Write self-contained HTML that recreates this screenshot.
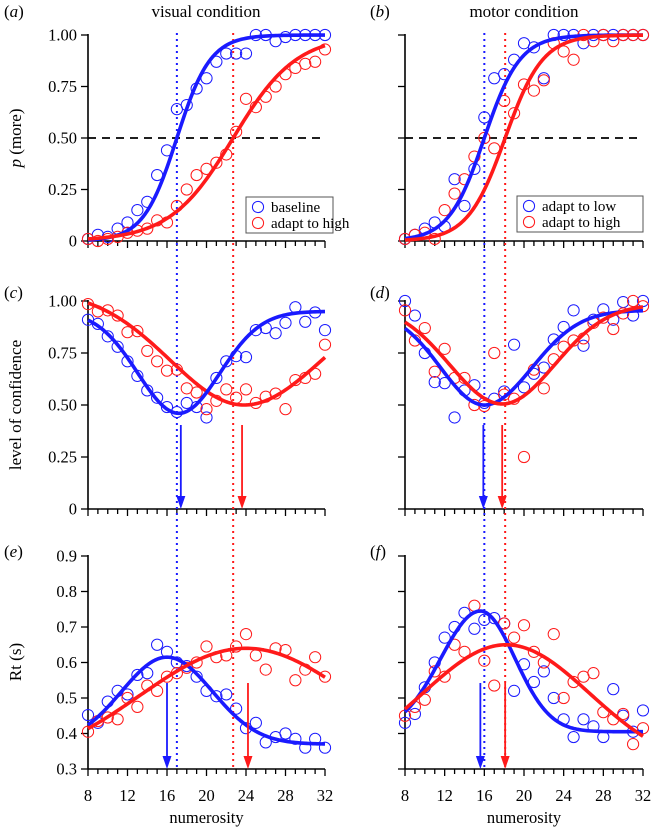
<!DOCTYPE html>
<html><head><meta charset="utf-8">
<style>
html,body{margin:0;padding:0;background:#fff;}
svg, svg text{font-family:"Liberation Serif","DejaVu Serif",serif;}
svg{display:block;}
</style></head>
<body>
<svg id="fig" width="652" height="829" viewBox="0 0 652 829" xmlns="http://www.w3.org/2000/svg"></svg>
<script>
// ---- data ----
const xs = [8,9,10,11,12,13,14,15,16,17,18,19,20,21,22,23,24,25,26,27,28,29,30,31,32];
const xTicks = [8,12,16,20,24,28,32];
const pTicks = [0,0.25,0.5,0.75,1.0];
const pTickLabels = ["0","0.25","0.50","0.75","1.00"];
const rtTicks = [0.3,0.4,0.5,0.6,0.7,0.8,0.9];
const rtTickLabels = ["0.3","0.4","0.5","0.6","0.7","0.8","0.9"];

const aBlue = [0.01,0.03,0.02,0.06,0.09,0.15,0.19,0.32,0.44,0.64,0.66,0.74,0.79,0.87,0.91,0.91,0.91,1.0,1.0,0.97,0.99,1.0,1.0,1.0,1.0];
const aRed  = [0.01,0.0,0.01,0.02,0.04,0.05,0.06,0.10,0.09,0.17,0.25,0.32,0.35,0.38,0.42,0.53,0.69,0.65,0.70,0.75,0.81,0.84,0.86,0.87,0.93];
const bBlue = [0.01,0.03,0.06,0.09,0.07,0.30,0.17,0.35,0.60,0.79,0.81,0.88,0.96,0.94,0.79,1.0,1.0,1.0,0.96,1.0,1.0,1.0,1.0,1.0,1.0];
const bRed  = [0.01,0.03,0.04,0.01,0.15,0.23,0.30,0.41,0.50,0.45,0.68,0.62,0.76,0.73,0.78,0.96,0.92,0.88,1.0,0.97,1.0,0.97,1.0,1.0,1.0];
const cBlue = [0.91,0.89,0.83,0.78,0.71,0.64,0.57,0.535,0.49,0.466,0.51,0.49,0.44,0.63,0.71,0.735,0.73,0.86,0.87,0.845,0.895,0.97,0.90,0.945,0.86];
const cRed  = [0.985,0.95,0.955,0.93,0.85,0.855,0.76,0.71,0.665,0.67,0.58,0.56,0.48,0.52,0.575,0.535,0.575,0.51,0.54,0.555,0.48,0.62,0.63,0.65,0.79];
const dBlue = [1.0,0.93,0.75,0.61,0.605,0.44,0.57,0.595,0.51,0.53,0.565,0.79,0.585,0.65,0.68,0.815,0.875,0.955,0.785,0.91,0.96,0.91,0.995,0.93,1.0];
const dRed  = [0.955,0.81,0.87,0.66,0.77,0.63,0.63,0.50,0.495,0.75,0.55,0.53,0.25,0.67,0.58,0.72,0.78,0.81,0.82,0.895,0.92,0.865,0.94,1.0,0.975];
const eBlue = [0.452,0.43,0.49,0.52,0.51,0.565,0.57,0.65,0.63,0.60,0.59,0.56,0.52,0.505,0.51,0.47,0.415,0.43,0.375,0.39,0.40,0.385,0.36,0.385,0.36];
const eRed  = [0.405,0.435,0.445,0.44,0.50,0.475,0.535,0.52,0.56,0.57,0.585,0.60,0.645,0.615,0.62,0.645,0.68,0.62,0.58,0.64,0.635,0.55,0.58,0.615,0.56];
const fBlue = [0.43,0.455,0.53,0.60,0.67,0.70,0.74,0.695,0.72,0.725,0.71,0.52,0.595,0.545,0.575,0.50,0.44,0.39,0.44,0.42,0.39,0.525,0.45,0.405,0.465];
const fRed  = [0.45,0.475,0.495,0.575,0.56,0.65,0.63,0.76,0.605,0.535,0.71,0.67,0.705,0.63,0.60,0.68,0.50,0.545,0.56,0.57,0.46,0.44,0.455,0.37,0.415];

// fitted-curve parameters: [centre, scale]
const fitA = [[17.0,1.7],[22.7,3.2]];
const fitB = [[16.0,1.8],[18.1,1.9]];
// dip/bump params: [mu, base, amp, sigmaLeft, sigmaRight]
const fitC = [[17.2,0.46,0.49,4.15,4.15],[23.8,0.50,0.55,7.5,7.9]];
const fitD = [[16.0,0.50,0.455,4.4,4.8],[17.8,0.505,0.48,5.3,5.3]];
const fitE = [[16.0,0.37,0.245,4.6,4.6],[24.0,0.30,0.34,10.8,10.8]];
const fitF = [[15.6,0.405,0.34,4.0,3.5],[18.2,0.30,0.35,8.45,8.45]];
const arrowsC = [17.4,23.6], arrowsD = [15.9,17.8], arrowsE = [16.0,24.2], arrowsF = [15.6,18.1];
const pseLeft = [17.0,22.7], pseRight = [16.0,18.1];

// ---- drawing ----
const NS="http://www.w3.org/2000/svg";
const svg=document.getElementById('fig');
const BLUE="#1a1aff", RED="#ff1a1a";
const FONT="'Liberation Serif', 'DejaVu Serif', serif";
function el(tag,attrs,parent){const e=document.createElementNS(NS,tag);for(const k in attrs)e.setAttribute(k,attrs[k]);if(tag==='text')e.setAttribute('font-family',FONT);(parent||svg).appendChild(e);return e;}
const cols={L:[88,325],R:[405,643]};
const rows={T:[35,241,0,1],M:[301,509,0,1],B:[556,769,0.3,0.9]};
function sx(c,v){const a=cols[c][0],b=cols[c][1];return a+(v-8)/24*(b-a);}
function sy(r,v){const t=rows[r][0],b=rows[r][1],lo=rows[r][2],hi=rows[r][3];return b-(v-lo)/(hi-lo)*(b-t);}

function axes(c,r,yt,ytl,labels,nm){
  const g=el('g',{});
  
  
  const x0=cols[c][0],x1=cols[c][1];const t=rows[r][0],b=rows[r][1];
  el('line',{x1:x0,y1:t-1,x2:x0,y2:b,stroke:'#000','stroke-width':1.6},g);
  el('line',{x1:x0,y1:b,x2:x1,y2:b,stroke:'#000','stroke-width':1.6},g);
  for(let v=8;v<=32;v++){const X=sx(c,v);const L=(v%4===0)?7:5;el('line',{x1:X,y1:b,x2:X,y2:b+L,stroke:'#000','stroke-width':1.3},g);}
  yt.forEach((v,i)=>{const Y=sy(r,v);el('line',{x1:x0-7,y1:Y,x2:x0,y2:Y,stroke:'#000','stroke-width':1.3},g);
    if(labels){const tx=el('text',{x:x0-11,y:Y+5.5,'text-anchor':'end','font-size':16.5},g);tx.textContent=ytl[i];}});
  if(r==='B'){xTicks.forEach(v=>{const tx=el('text',{x:sx(c,v),y:801,'text-anchor':'middle','font-size':16.5},g);tx.textContent=v;});
    const tt=el('text',{x:(x0+x1)/2,y:823,'text-anchor':'middle','font-size':16.5},g);tt.textContent='numerosity';
    }
}
function points(c,r,vals,color,nm){
  const g=el('g',{});
  
  
  xs.forEach((x,i)=>{const cc=el('circle',{cx:sx(c,x),cy:sy(r,vals[i]),r:5.6,fill:'none',stroke:color,'stroke-width':1},g);
    
    });
}
function curve(c,r,f,color,nm){
  let d='';for(let x=8;x<=32.001;x+=0.2){d+=(d?'L':'M')+sx(c,x).toFixed(2)+','+sy(r,f(x)).toFixed(2);}
  const p=el('path',{d:d,fill:'none',stroke:color,'stroke-width':3.6,'stroke-linejoin':'round'});
  
  
}
function logistic(p){return function(x){return 1/(1+Math.exp(-(x-p[0])/p[1]));};}
function dip(p){return function(x){const s=x<p[0]?p[3]:p[4];return p[1]+p[2]*(1-Math.exp(-Math.pow(x-p[0],2)/(2*s*s)));};}
function bump(p){return function(x){const s=x<p[0]?p[3]:p[4];return p[1]+p[2]*Math.exp(-Math.pow(x-p[0],2)/(2*s*s));};}
function arrow(c,r,v,color,topY,nm){
  const X=sx(c,v);const b=rows[r][1];
  const g=el('g',{});
  
  
  el('line',{x1:X,y1:topY,x2:X,y2:b-12,stroke:color,'stroke-width':1.8},g);
  el('polygon',{points:(X-4.5)+','+(b-13)+' '+(X+4.5)+','+(b-13)+' '+X+','+b,fill:color},g);
}
function vdotted(c,v,color,nm){
  const l=el('line',{x1:sx(c,v),y1:33,x2:sx(c,v),y2:771,stroke:color,'stroke-width':2,'stroke-dasharray':'2 4'});
  
  
}

axes('L','T',pTicks,pTickLabels,true,'panel-a');
axes('R','T',pTicks,pTickLabels,false,'panel-b');
axes('L','M',pTicks,pTickLabels,true,'panel-c');
axes('R','M',pTicks,pTickLabels,false,'panel-d');
axes('L','B',rtTicks,rtTickLabels,true,'panel-e');
axes('R','B',rtTicks,rtTickLabels,false,'panel-f');

['L','R'].forEach(c=>{const l=el('line',{x1:cols[c][0],y1:sy('T',0.5),x2:cols[c][1],y2:sy('T',0.5),stroke:'#000','stroke-width':1.8,'stroke-dasharray':'8 6'});
  
  });
vdotted('L',pseLeft[0],BLUE,'pse-baseline-line');
vdotted('L',pseLeft[1],RED,'pse-adapt-high-line');
vdotted('R',pseRight[0],BLUE,'pse-adapt-low-line');
vdotted('R',pseRight[1],RED,'pse-adapt-high-line-motor');

points('L','T',aBlue,BLUE,'a-baseline-points');points('L','T',aRed,RED,'a-adapt-high-points');
curve('L','T',logistic(fitA[0]),BLUE,'a-baseline-fit');curve('L','T',logistic(fitA[1]),RED,'a-adapt-high-fit');
points('R','T',bBlue,BLUE,'b-adapt-low-points');points('R','T',bRed,RED,'b-adapt-high-points');
curve('R','T',logistic(fitB[0]),BLUE,'b-adapt-low-fit');curve('R','T',logistic(fitB[1]),RED,'b-adapt-high-fit');
points('L','M',cBlue,BLUE,'c-baseline-points');points('L','M',cRed,RED,'c-adapt-high-points');
curve('L','M',dip(fitC[1]),RED,'c-adapt-high-fit');curve('L','M',dip(fitC[0]),BLUE,'c-baseline-fit');
points('R','M',dBlue,BLUE,'d-adapt-low-points');points('R','M',dRed,RED,'d-adapt-high-points');
curve('R','M',dip(fitD[0]),BLUE,'d-adapt-low-fit');curve('R','M',dip(fitD[1]),RED,'d-adapt-high-fit');
points('L','B',eBlue,BLUE,'e-baseline-points');points('L','B',eRed,RED,'e-adapt-high-points');
curve('L','B',bump(fitE[0]),BLUE,'e-baseline-fit');curve('L','B',bump(fitE[1]),RED,'e-adapt-high-fit');
points('R','B',fBlue,BLUE,'f-adapt-low-points');points('R','B',fRed,RED,'f-adapt-high-points');
curve('R','B',bump(fitF[0]),BLUE,'f-adapt-low-fit');curve('R','B',bump(fitF[1]),RED,'f-adapt-high-fit');

arrow('L','M',arrowsC[0],BLUE,425,'c-blue-arrow');arrow('L','M',arrowsC[1],RED,425,'c-red-arrow');
arrow('R','M',arrowsD[0],BLUE,425,'d-blue-arrow');arrow('R','M',arrowsD[1],RED,425,'d-red-arrow');
arrow('L','B',arrowsE[0],BLUE,683,'e-blue-arrow');arrow('L','B',arrowsE[1],RED,683,'e-red-arrow');
arrow('R','B',arrowsF[0],BLUE,683,'f-blue-arrow');arrow('R','B',arrowsF[1],RED,683,'f-red-arrow');

function legend(x,y,w,labels,nm){
  const g=el('g',{});
  
  
  el('rect',{x:x,y:y,width:w,height:36,fill:'#fff',stroke:'#555','stroke-width':1},g);
  labels.forEach((lb,i)=>{const cy=y+10+i*16;
    el('circle',{cx:x+12,cy:cy,r:5.6,fill:'none',stroke:i?RED:BLUE,'stroke-width':1},g);
    const t=el('text',{x:x+25,y:cy+5,'font-size':15},g);t.textContent=lb;
    });
}
legend(246,197,87,['baseline','adapt to high'],'legend-visual');
legend(517,196,126,['adapt to low','adapt to high'],'legend-motor');

function txt(x,y,parts,attrs,nm){
  const t=el('text',Object.assign({x:x,y:y,'font-size':17},attrs||{}));
  parts.forEach(p=>{const s=el('tspan',p[1]?{'font-style':'italic'}:{},t);s.textContent=p[0];});
  
  return t;}
txt(206,17,[['visual condition',0]],{'text-anchor':'middle'},'title-visual');
txt(524,17,[['motor condition',0]],{'text-anchor':'middle'},'title-motor');
txt(4,17,[['(',0],['a',1],[')',0]],{},'panel-label-a');
txt(370,17,[['(',0],['b',1],[')',0]],{},'panel-label-b');
txt(4,298,[['(',0],['c',1],[')',0]],{},'panel-label-c');
txt(370,298,[['(',0],['d',1],[')',0]],{},'panel-label-d');
txt(4,557,[['(',0],['e',1],[')',0]],{},'panel-label-e');
txt(370,557,[['(',0],['f',1],[')',0]],{},'panel-label-f');
txt(0,0,[['p',1],[' (more)',0]],{'text-anchor':'middle',transform:'translate(21,138) rotate(-90)'},'y-axis-title-p-more');
txt(0,0,[['level of confidence',0]],{'text-anchor':'middle',transform:'translate(21,405) rotate(-90)'},'y-axis-title-confidence');
txt(0,0,[['Rt (s)',0]],{'text-anchor':'middle',transform:'translate(21,662) rotate(-90)'},'y-axis-title-rt');
</script>
</body></html>
